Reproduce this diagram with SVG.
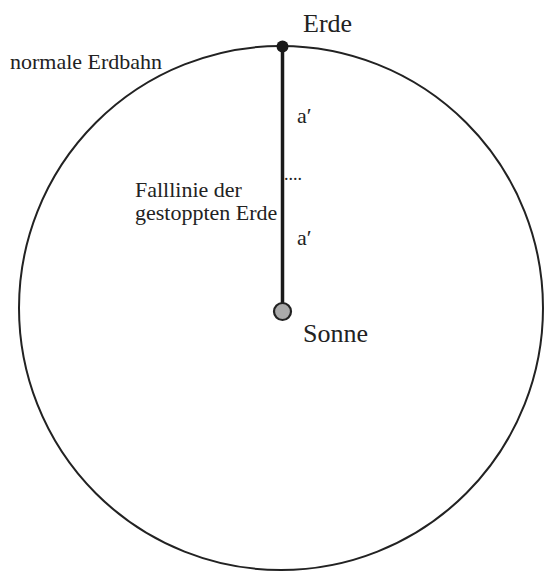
<svg xmlns="http://www.w3.org/2000/svg" width="545" height="572" viewBox="0 0 545 572">
<style>
text { font-family: "Times New Roman", "Liberation Serif", Tinos, "DejaVu Serif", serif; fill: #222; }
.big { font-size: 26px; }
.lbl { font-size: 22px; }
</style>
<rect width="545" height="572" fill="#fff"/>
<g id="orbit">
<circle cx="281" cy="308" r="262" fill="none" stroke="#222" stroke-width="2"/>
<text class="lbl" x="10" y="69" font-family="Liberation Serif, serif">normale Erdbahn</text>
</g>
<g id="connectors">
<line x1="282.5" y1="46" x2="282.5" y2="303" stroke="#1a1a1a" stroke-width="3.5"/>
<text class="lbl" x="297" y="123" font-family="Liberation Serif, serif">a′</text>
<text class="lbl" x="297" y="245" font-family="Liberation Serif, serif">a′</text>
<text style="font-size:18px" x="284" y="180" font-family="Liberation Serif, serif">....</text>
<text class="lbl" x="135" y="197" font-family="Liberation Serif, serif">Falllinie der</text>
<text class="lbl" x="135" y="220" font-family="Liberation Serif, serif">gestoppten Erde</text>
</g>
<g id="erde">
<circle cx="282.5" cy="46.5" r="6" fill="#1a1a1a"/>
<text class="big" x="303" y="32" font-family="Liberation Serif, serif">Erde</text>
</g>
<g id="sonne">
<circle cx="282.5" cy="311.5" r="8.5" fill="#aaa" stroke="#222" stroke-width="2.2"/>
<text class="big" x="303" y="342" font-family="Liberation Serif, serif">Sonne</text>
</g>
</svg>
